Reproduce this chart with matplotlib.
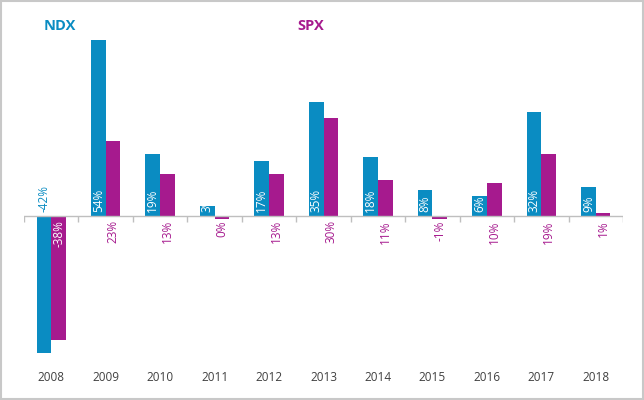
import matplotlib.pyplot as plt
from matplotlib.patches import Rectangle
import numpy as np

plt.rcParams['font.family'] = ['Open Sans', 'DejaVu Sans']

# Jahresrenditen in %
years = ['2008', '2009', '2010', '2011', '2012', '2013', '2014', '2015', '2016', '2017', '2018']
ndx = [-42, 54, 19, 3, 17, 35, 18, 8, 6, 32, 9]
spx = [-38, 23, 13, -1, 13, 30, 11, -1, 10, 19, 1]
spx_labels = ['-38%', '23%', '13%', '0%', '13%', '30%', '11%', '-1%', '10%', '19%', '1%']

blue = '#0a8cc2'
magenta = '#a61a8e'

fig = plt.figure(figsize=(6.44, 4.0), dpi=100)
ax = fig.add_axes([24 / 644, 40 / 400, 599 / 644, 330 / 400])

x = np.arange(len(years))
w = 0.27
ax.bar(x - w / 2, ndx, w, color=blue)
ax.bar(x + w / 2, spx, w, color=magenta)

ax.set_xlim(-0.5, len(years) - 0.5)
ax.set_ylim(-44.3, 57.2)

# Nulllinie und Trennstriche
ax.axhline(0, color='#bfbfbf', lw=1)
ax.vlines(np.arange(len(years) + 1) - 0.5, -1.9, 0, color='#bfbfbf', lw=1)

# Werte beschriften
for i in range(len(years)):
    c = 'white' if ndx[i] > 0 else blue
    ax.annotate(f'{ndx[i]}%', (x[i] - w / 2, 0), xytext=(0, 3), textcoords='offset points',
                rotation=90, ha='center', va='bottom', color=c, fontsize=8.5)
    c = 'white' if spx[i] < -5 else magenta
    ax.annotate(spx_labels[i], (x[i] + w / 2, 0), xytext=(0, -3), textcoords='offset points',
                rotation=90, ha='center', va='top', color=c, fontsize=8.5)

ax.set_xticks(x)
ax.set_xticklabels(years, fontsize=8.5, color='#404040')
ax.tick_params(axis='x', length=0, pad=8)
ax.set_yticks([])
for s in ax.spines.values():
    s.set_visible(False)

fig.text(60 / 644, 1 - 26 / 400, 'NDX', color=blue, fontsize=10.5, fontweight='bold',
         ha='center', va='center')
fig.text(311 / 644, 1 - 26 / 400, 'SPX', color=magenta, fontsize=10.5, fontweight='bold',
         ha='center', va='center')

fig.patches.append(Rectangle((0.001, 0.002), 0.997, 0.996, transform=fig.transFigure,
                             fill=False, edgecolor='#c8c8c8', lw=1.5))

fig.savefig('out.png', dpi=100)
